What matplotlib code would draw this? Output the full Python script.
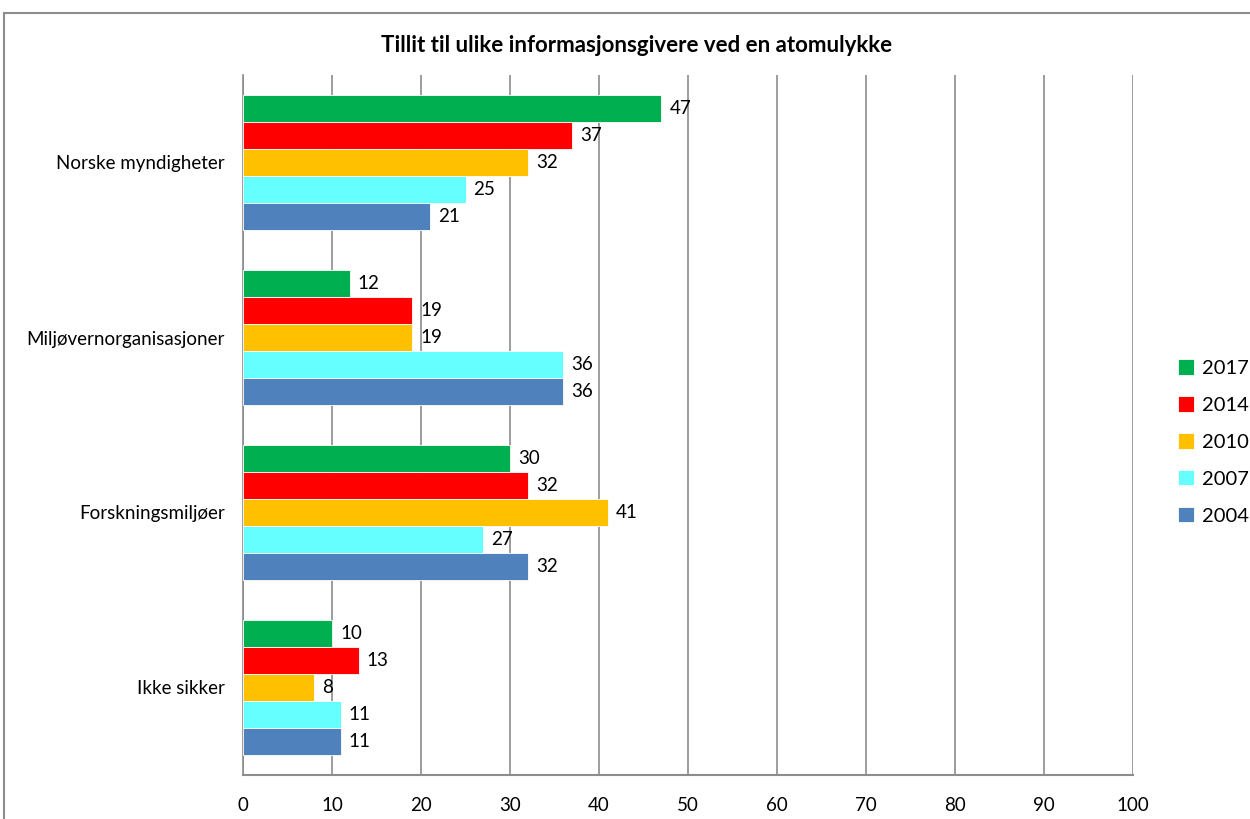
import matplotlib
matplotlib.use("Agg")
import matplotlib.pyplot as plt
import numpy as np
from matplotlib.patches import Rectangle

plt.rcParams['font.family'] = ['Lato', 'DejaVu Sans']

categories = ["Norske myndigheter", "Miljøvernorganisasjoner", "Forskningsmiljøer", "Ikke sikker"]
years = ["2017", "2014", "2010", "2007", "2004"]
values = {
    "2017": [47, 12, 30, 10],
    "2014": [37, 19, 32, 13],
    "2010": [32, 19, 41, 8],
    "2007": [25, 36, 27, 11],
    "2004": [21, 36, 32, 11],
}
colors = {"2017": "#00B050", "2014": "#FF0000", "2010": "#FFC000", "2007": "#66FFFF", "2004": "#4F81BD"}
title = "Tillit til ulike informasjonsgivere ved en atomulykke"
xticks = list(range(0, 101, 10))

fig = plt.figure(figsize=(12.5, 8.19), dpi=100)
fig.patches.append(Rectangle((4/1250, -0.1), 1.2, (819-13)/819 + 0.1, transform=fig.transFigure,
                             fill=False, edgecolor="#8c8c8c", linewidth=1.5))
ax = fig.add_axes([243/1250, (819-775)/819, (1133-243)/1250, (775-75)/819])

bh = 0.154
n = len(years)
for i, y in enumerate(years):
    pos = np.arange(len(categories)) + (i - (n-1)/2) * bh
    ax.barh(pos, values[y], height=bh, color=colors[y], edgecolor="white", linewidth=0.6,
            label=y, zorder=3)
    for p, v in zip(pos, values[y]):
        ax.text(v + 0.9, p, str(v), va="center", ha="left", fontsize=13.5, color="black", zorder=4)

ax.set_ylim(len(categories) - 0.5, -0.5)
ax.set_xlim(0, 100)
ax.set_yticks(range(len(categories)))
ax.set_yticklabels(categories, fontsize=13.5)
ax.set_xticks(xticks)
ax.set_xticklabels([str(t) for t in xticks], fontsize=13.5)
ax.tick_params(axis="both", length=0)
ax.tick_params(axis="x", pad=16)
ax.tick_params(axis="y", pad=13)
ax.grid(axis="x", color="#8c8c8c", linewidth=1.2, zorder=0)
for s in ["top", "right"]:
    ax.spines[s].set_visible(False)
ax.spines["left"].set_color("#8c8c8c")
ax.spines["left"].set_linewidth(1.2)
ax.spines["bottom"].set_color("#8c8c8c")
ax.spines["bottom"].set_linewidth(1.5)

fig.text(637/1250, (819-45)/819, title, ha="center", va="center", fontsize=16, fontweight="bold")

leg = fig.legend(loc="center left", bbox_to_anchor=(1178/1250, (819-442)/819), frameon=False,
                 fontsize=14.5, handlelength=0.8, handleheight=0.8, handletextpad=0.4,
                 labelspacing=0.95, borderpad=0, borderaxespad=0)

fig.savefig("out.png", dpi=100)
